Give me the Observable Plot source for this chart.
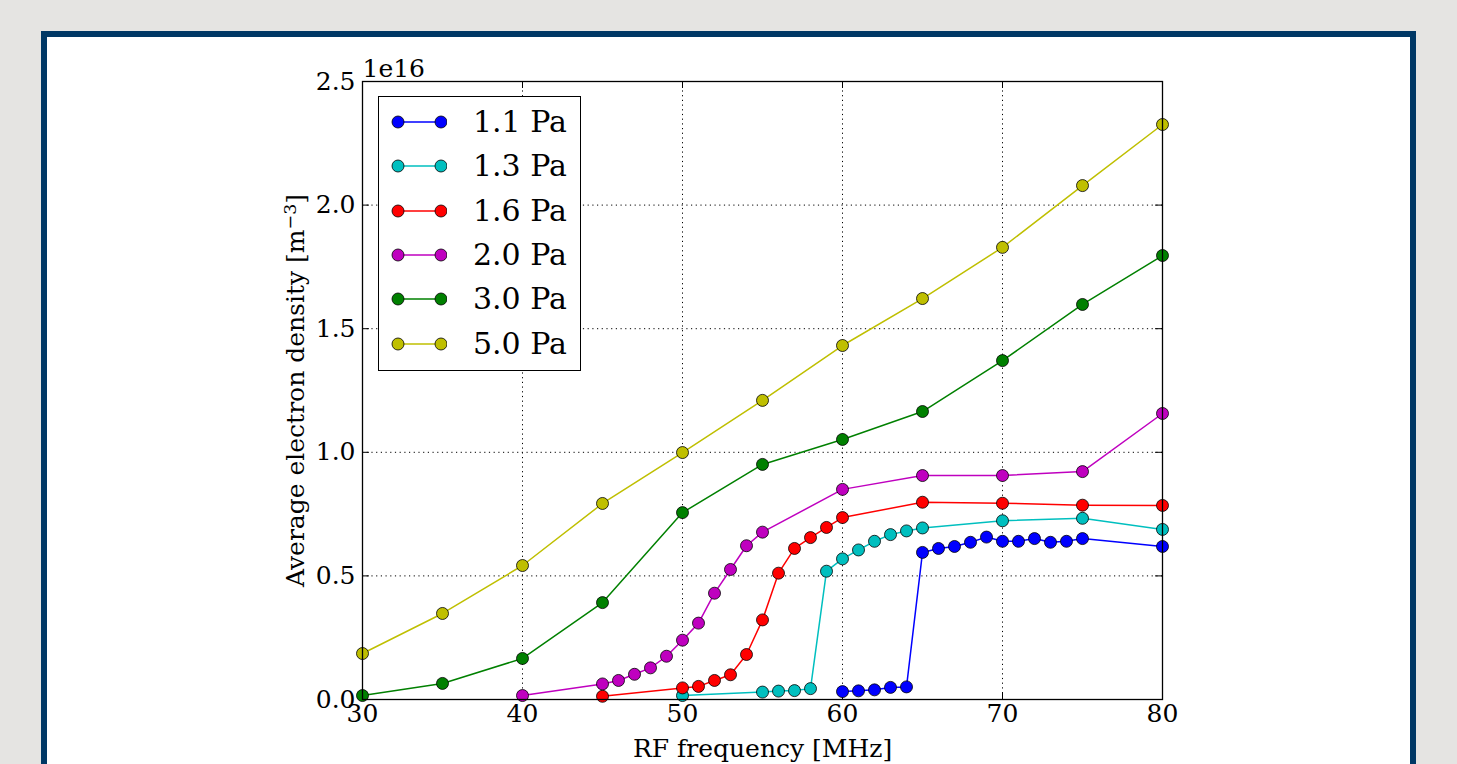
<!DOCTYPE html>
<html>
<head>
<meta charset="utf-8">
<script src="https://cdn.jsdelivr.net/npm/d3@7"></script>
<script src="https://cdn.jsdelivr.net/npm/@observablehq/plot@0.6"></script>
<style>
  html, body { margin: 0; padding: 0; background: #e5e4e2; width: 1457px; height: 764px; overflow: hidden; }
  #frame { position: absolute; left: 41px; top: 31px; width: 1363px; height: 800px; border: 6px solid #003865; background: #fff; }
  #chart { position: absolute; left: 0; top: 0; }
  #legend { position: absolute; left: 378px; top: 96px; width: 201px; height: 273px; border: 1.5px solid #000; background: #fff;
            font-family: "DejaVu Serif", serif; font-size: 30px; box-sizing: content-box; }
  .row { position: absolute; left: 0; height: 36px; display: flex; align-items: center; }
  .row svg { margin-left: 12px; }
  .row span { margin-left: 26px; color: #000; line-height: 36px; }
</style>
</head>
<body>
<div id="frame"></div>
<div id="chart"></div>
<div id="legend"></div>
<script>
// Values in units of 1e16 m^-3
const seriesNames = ["1.1 Pa", "1.3 Pa", "1.6 Pa", "2.0 Pa", "3.0 Pa", "5.0 Pa"];
const seriesColors = ["#0000ff", "#00bfbf", "#ff0000", "#bf00bf", "#008000", "#bfbf00"];

const freq11 = [60, 61, 62, 63, 64, 65, 66, 67, 68, 69, 70, 71, 72, 73, 74, 75, 80];
const dens11 = [0.032, 0.035, 0.039, 0.049, 0.051, 0.595, 0.611, 0.619, 0.636, 0.657, 0.640, 0.640, 0.651, 0.636, 0.640, 0.651, 0.619];

const freq13 = [50, 55, 56, 57, 58, 59, 60, 61, 62, 63, 64, 65, 70, 75, 80];
const dens13 = [0.016, 0.030, 0.034, 0.036, 0.044, 0.519, 0.569, 0.605, 0.640, 0.667, 0.682, 0.694, 0.723, 0.733, 0.688];

const freq16 = [45, 50, 51, 52, 53, 54, 55, 56, 57, 58, 59, 60, 65, 70, 75, 80];
const dens16 = [0.013, 0.047, 0.053, 0.077, 0.100, 0.182, 0.322, 0.511, 0.611, 0.655, 0.696, 0.736, 0.798, 0.794, 0.786, 0.785];

const freq20 = [40, 45, 46, 47, 48, 49, 50, 51, 52, 53, 54, 55, 60, 65, 70, 75, 80];
const dens20 = [0.016, 0.063, 0.077, 0.102, 0.128, 0.175, 0.240, 0.309, 0.430, 0.526, 0.622, 0.677, 0.850, 0.906, 0.906, 0.922, 1.157];

const freq30 = [30, 35, 40, 45, 50, 55, 60, 65, 70, 75, 80];
const dens30 = [0.016, 0.065, 0.166, 0.392, 0.756, 0.951, 1.052, 1.165, 1.371, 1.598, 1.796];

const freq50 = [30, 35, 40, 45, 50, 55, 60, 65, 70, 75, 80];
const dens50 = [0.186, 0.348, 0.542, 0.793, 0.999, 1.210, 1.432, 1.622, 1.829, 2.079, 2.326];

const xTicks = [30, 40, 50, 60, 70, 80];
const yTicks = [0.0, 0.5, 1.0, 1.5, 2.0, 2.5];
const xLabel = "RF frequency [MHz]";
const yLabelMain = "Average electron density [m";
const yLabelSup = "\u22123";
const yLabelEnd = "]";
const offsetLabel = "1e16";

const allFreq = [freq11, freq13, freq16, freq20, freq30, freq50];
const allDens = [dens11, dens13, dens16, dens20, dens30, dens50];
const data = [];
seriesNames.forEach((name, i) => {
  allFreq[i].forEach((f, j) => data.push({series: name, f, n: allDens[i][j]}));
});

const W = 1457, H = 764;
const mL = 362, mR = W - 1162, mT = 81, mB = H - 699;
const plotW = W - mL - mR, plotH = H - mT - mB;
const tickLen = 7;

const chart = Plot.plot({
  width: W, height: H,
  marginLeft: mL, marginRight: mR, marginTop: mT, marginBottom: mB,
  style: {fontFamily: "'DejaVu Serif', serif", fontSize: "25px", background: "transparent", color: "#000"},
  x: {domain: [30, 80]},
  y: {domain: [0, 2.5]},
  color: {domain: seriesNames, range: seriesColors},
  marks: [
    Plot.gridX(xTicks, {stroke: "#000", strokeOpacity: 1, strokeDasharray: "1.2,3.5", strokeWidth: 1}),
    Plot.gridY(yTicks, {stroke: "#000", strokeOpacity: 1, strokeDasharray: "1.2,3.5", strokeWidth: 1}),
    Plot.tickX(xTicks, {x: d => d, insetTop: plotH - tickLen, stroke: "#000"}),
    Plot.tickX(xTicks, {x: d => d, insetBottom: plotH - tickLen, stroke: "#000"}),
    Plot.tickY(yTicks, {y: d => d, insetRight: plotW - tickLen, stroke: "#000"}),
    Plot.tickY(yTicks, {y: d => d, insetLeft: plotW - tickLen, stroke: "#000"}),
    Plot.line(data, {x: "f", y: "n", z: "series", stroke: "series", strokeWidth: 1.5}),
    Plot.dot(data, {x: "f", y: "n", fill: "series", stroke: "#000", strokeWidth: 0.8, r: 6}),
    Plot.frame({stroke: "#000", strokeWidth: 1.3}),
    Plot.axisX(xTicks, {tickSize: 0, tickPadding: 5, tickFormat: d => String(d), label: xLabel, labelAnchor: "center", labelArrow: "none", labelOffset: 57}),
    Plot.axisY(yTicks, {tickSize: 0, tickPadding: 7, tickFormat: d => d.toFixed(1), label: yLabelMain + yLabelSup + yLabelEnd, labelAnchor: "center", labelArrow: "none", labelOffset: 76}),
    Plot.text([offsetLabel], {frameAnchor: "top-left", text: d => d, dy: -13, lineAnchor: "middle", textAnchor: "start", fontSize: 25})
  ]
});
document.getElementById("chart").appendChild(chart);

// Superscript for the y label
for (const t of chart.querySelectorAll("text")) {
  if (t.textContent === yLabelMain + yLabelSup + yLabelEnd) {
    t.textContent = "";
    const ns = "http://www.w3.org/2000/svg";
    const a = document.createElementNS(ns, "tspan"); a.textContent = yLabelMain; t.appendChild(a);
    const b = document.createElementNS(ns, "tspan"); b.textContent = yLabelSup; b.setAttribute("dy", "-0.45em"); b.setAttribute("font-size", "70%"); t.appendChild(b);
    const c = document.createElementNS(ns, "tspan"); c.textContent = yLabelEnd; c.setAttribute("dy", "0.32em"); t.appendChild(c);
  }
}

// Legend
const legend = document.getElementById("legend");
seriesNames.forEach((name, i) => {
  const row = document.createElement("div");
  row.className = "row";
  row.style.top = (7 + i * 44.3) + "px";
  const c = seriesColors[i];
  row.innerHTML = `<svg width="56" height="16"><line x1="7" x2="50" y1="8" y2="8" stroke="${c}" stroke-width="1.5"/>` +
    `<circle cx="7" cy="8" r="6" fill="${c}" stroke="#000" stroke-width="0.8"/><circle cx="50" cy="8" r="6" fill="${c}" stroke="#000" stroke-width="0.8"/></svg>` +
    `<span>${name}</span>`;
  legend.appendChild(row);
});
</script>
</body>
</html>
